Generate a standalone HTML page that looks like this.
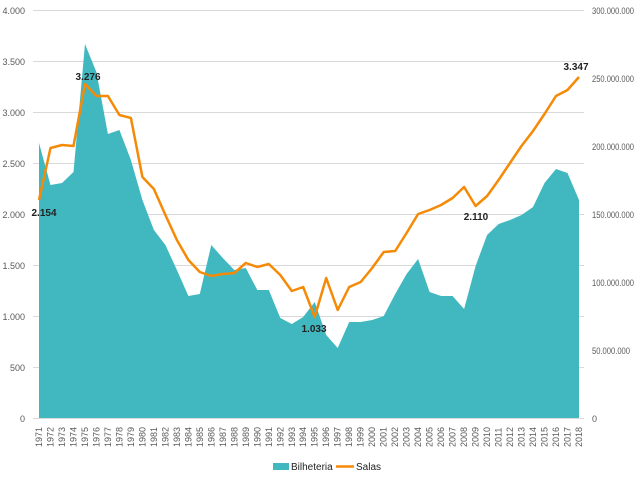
<!DOCTYPE html>
<html><head><meta charset="utf-8"><style>
html,body{margin:0;padding:0;background:#fff;}
svg{display:block;font-family:"Liberation Sans",sans-serif;}
.t{font-size:9px;fill:#595959;}
.y{font-size:9px;fill:#595959;}
.d{font-size:10px;fill:#222;font-weight:bold;}
</style></head><body>
<svg width="640" height="480" viewBox="0 0 640 480">
<g stroke="#d9d9d9" stroke-width="1">
<line x1="33" y1="10.5" x2="584" y2="10.5"/>
<line x1="33" y1="61.5" x2="584" y2="61.5"/>
<line x1="33" y1="112.5" x2="584" y2="112.5"/>
<line x1="33" y1="163.5" x2="584" y2="163.5"/>
<line x1="33" y1="214.5" x2="584" y2="214.5"/>
<line x1="33" y1="265.5" x2="584" y2="265.5"/>
<line x1="33" y1="316.5" x2="584" y2="316.5"/>
<line x1="33" y1="367.5" x2="584" y2="367.5"/>
<line x1="33" y1="418.5" x2="584" y2="418.5"/>
</g>
<g class="t" text-anchor="end">
<text x="25" y="14">4.000</text><text x="25" y="65">3.500</text><text x="25" y="116">3.000</text>
<text x="25" y="167">2.500</text><text x="25" y="218">2.000</text><text x="25" y="269">1.500</text>
<text x="25" y="320">1.000</text><text x="25" y="371">500</text><text x="25" y="422">0</text>
</g>
<g class="t">
<text x="592" y="14" textLength="42" lengthAdjust="spacingAndGlyphs">300.000.000</text>
<text x="592" y="82" textLength="42" lengthAdjust="spacingAndGlyphs">250.000.000</text>
<text x="592" y="150" textLength="42" lengthAdjust="spacingAndGlyphs">200.000.000</text>
<text x="592" y="218" textLength="42" lengthAdjust="spacingAndGlyphs">150.000.000</text>
<text x="592" y="286" textLength="42" lengthAdjust="spacingAndGlyphs">100.000.000</text>
<text x="592" y="354" textLength="38" lengthAdjust="spacingAndGlyphs">50.000.000</text>
<text x="592" y="422">0</text>
</g>
<polygon fill="#41b8c0" points="39,418 39,143 50.5,185 62,183 73.5,172 85,44 96.4,72 107.9,134 119.4,130 130.9,160 142.4,200 153.9,230 165.4,245 176.9,270 188.4,296 199.8,294 211.3,245 222.8,258 234.3,270 245.8,268 257.3,290 268.8,290 280.3,318 291.8,324 303.2,317 314.7,302 326.2,335 337.7,348 349.2,322 360.7,322 372.2,320 383.7,316 395.2,294 406.6,274 418.1,259 429.6,292 441.1,296 452.6,296 464.1,309 475.6,266 487.1,235 498.6,224 510,220 521.5,215 533,207 544.5,183 556,169 567.5,173 579,200 579,418"/>
<polyline fill="none" stroke="#f58a07" stroke-width="2.5" stroke-linejoin="round" points="39,200 50.5,148 62,145 73.5,146 85,84 96.4,96 107.9,96 119.4,115 130.9,118 142.4,177 153.9,189 165.4,215 176.9,240 188.4,260 199.8,272 211.3,276 222.8,274 234.3,273 245.8,263 257.3,267 268.8,264 280.3,275 291.8,291 303.2,287 314.7,317 326.2,278 337.7,310 349.2,287 360.7,282 372.2,268 383.7,252 395.2,251 406.6,233 418.1,214 429.6,210 441.1,205 452.6,198 464.1,187 475.6,206 487.1,196 498.6,180 510,163 521.5,146 533,131 544.5,114 556,96 567.5,90 579,77"/>
<g class="d" text-anchor="middle">
<text x="44" y="216">2.154</text><text x="88" y="80">3.276</text>
<text x="314" y="332">1.033</text><text x="476" y="220">2.110</text><text x="576" y="70">3.347</text>
</g>
<g class="y">
<text transform="translate(42,447) rotate(-90)">1971</text>
<text transform="translate(53.5,447) rotate(-90)">1972</text>
<text transform="translate(65,447) rotate(-90)">1973</text>
<text transform="translate(76.5,447) rotate(-90)">1974</text>
<text transform="translate(88,447) rotate(-90)">1975</text>
<text transform="translate(99.4,447) rotate(-90)">1976</text>
<text transform="translate(110.9,447) rotate(-90)">1977</text>
<text transform="translate(122.4,447) rotate(-90)">1978</text>
<text transform="translate(133.9,447) rotate(-90)">1979</text>
<text transform="translate(145.4,447) rotate(-90)">1980</text>
<text transform="translate(156.9,447) rotate(-90)">1981</text>
<text transform="translate(168.4,447) rotate(-90)">1982</text>
<text transform="translate(179.9,447) rotate(-90)">1983</text>
<text transform="translate(191.4,447) rotate(-90)">1984</text>
<text transform="translate(202.8,447) rotate(-90)">1985</text>
<text transform="translate(214.3,447) rotate(-90)">1986</text>
<text transform="translate(225.8,447) rotate(-90)">1987</text>
<text transform="translate(237.3,447) rotate(-90)">1988</text>
<text transform="translate(248.8,447) rotate(-90)">1989</text>
<text transform="translate(260.3,447) rotate(-90)">1990</text>
<text transform="translate(271.8,447) rotate(-90)">1991</text>
<text transform="translate(283.3,447) rotate(-90)">1992</text>
<text transform="translate(294.8,447) rotate(-90)">1993</text>
<text transform="translate(306.2,447) rotate(-90)">1994</text>
<text transform="translate(317.7,447) rotate(-90)">1995</text>
<text transform="translate(329.2,447) rotate(-90)">1996</text>
<text transform="translate(340.7,447) rotate(-90)">1997</text>
<text transform="translate(352.2,447) rotate(-90)">1998</text>
<text transform="translate(363.7,447) rotate(-90)">1999</text>
<text transform="translate(375.2,447) rotate(-90)">2000</text>
<text transform="translate(386.7,447) rotate(-90)">2001</text>
<text transform="translate(398.2,447) rotate(-90)">2002</text>
<text transform="translate(409.6,447) rotate(-90)">2003</text>
<text transform="translate(421.1,447) rotate(-90)">2004</text>
<text transform="translate(432.6,447) rotate(-90)">2005</text>
<text transform="translate(444.1,447) rotate(-90)">2006</text>
<text transform="translate(455.6,447) rotate(-90)">2007</text>
<text transform="translate(467.1,447) rotate(-90)">2008</text>
<text transform="translate(478.6,447) rotate(-90)">2009</text>
<text transform="translate(490.1,447) rotate(-90)">2010</text>
<text transform="translate(501.6,447) rotate(-90)">2011</text>
<text transform="translate(513,447) rotate(-90)">2012</text>
<text transform="translate(524.5,447) rotate(-90)">2013</text>
<text transform="translate(536,447) rotate(-90)">2014</text>
<text transform="translate(547.5,447) rotate(-90)">2015</text>
<text transform="translate(559,447) rotate(-90)">2016</text>
<text transform="translate(570.5,447) rotate(-90)">2017</text>
<text transform="translate(582,447) rotate(-90)">2018</text>
</g>
<rect x="273" y="463" width="16" height="7" fill="#41b8c0"/>
<text x="291" y="470" font-size="10" fill="#222">Bilheteria</text>
<line x1="336" y1="466.5" x2="354" y2="466.5" stroke="#f58a07" stroke-width="2.5"/>
<text x="356" y="470" font-size="10" fill="#222">Salas</text>
</svg>
</body></html>
